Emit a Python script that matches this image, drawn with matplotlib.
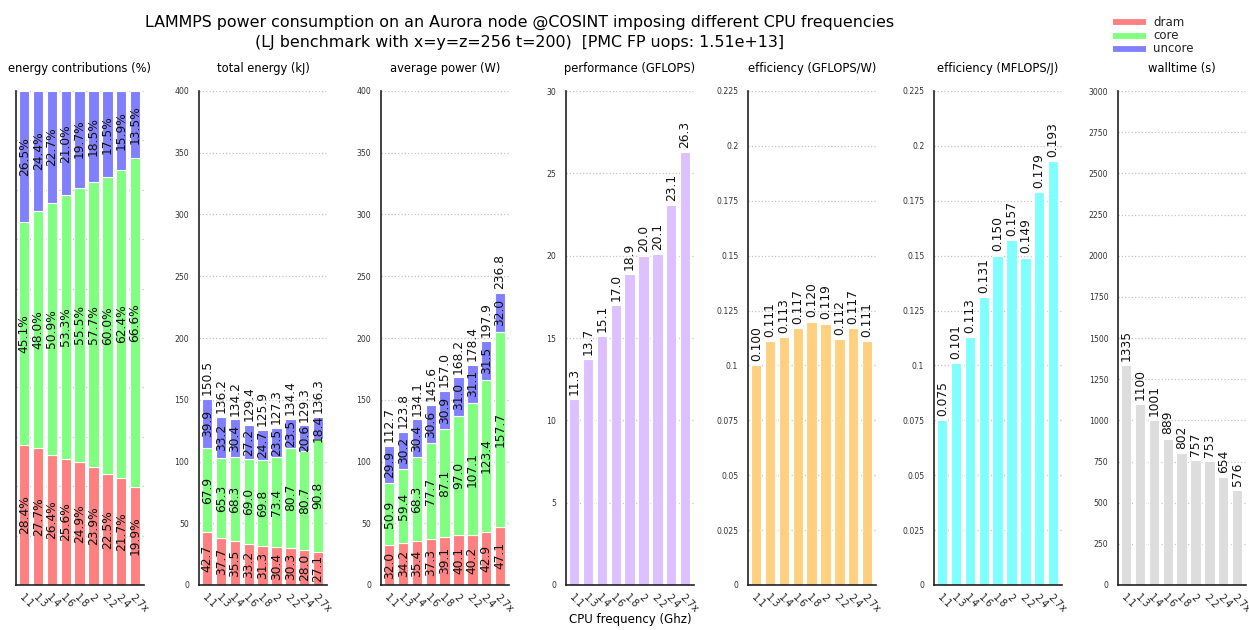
import matplotlib
matplotlib.use("Agg")
import matplotlib.pyplot as plt
from matplotlib.lines import Line2D
import numpy as np

plt.rcParams['font.family'] = ['DejaVu Sans']

freq_labels = ["1.1", "1.3", "1.4", "1.6", "1.8", "2", "2.2", "2.4", "2.7x"]

pct_dram = [28.4, 27.7, 26.4, 25.6, 24.9, 23.9, 22.5, 21.7, 19.9]
pct_core = [45.1, 48.0, 50.9, 53.3, 55.5, 57.7, 60.0, 62.4, 66.6]
pct_uncore = [26.5, 24.4, 22.7, 21.0, 19.7, 18.5, 17.5, 15.9, 13.5]

energy_dram = [42.7, 37.7, 35.5, 33.2, 31.3, 30.4, 30.3, 28.0, 27.1]
energy_core = [67.9, 65.3, 68.3, 69.0, 69.8, 73.4, 80.7, 80.7, 90.8]
energy_uncore = [39.9, 33.2, 30.4, 27.2, 24.7, 23.5, 23.5, 20.6, 18.4]
energy_total = [150.5, 136.2, 134.2, 129.4, 125.9, 127.3, 134.4, 129.3, 136.3]

power_dram = [32.0, 34.2, 35.4, 37.3, 39.1, 40.1, 40.2, 42.9, 47.1]
power_core = [50.9, 59.4, 68.3, 77.7, 87.1, 97.0, 107.1, 123.4, 157.7]
power_uncore = [29.9, 30.2, 30.4, 30.6, 30.9, 31.0, 31.1, 31.5, 32.0]
power_total = [112.7, 123.8, 134.1, 145.6, 157.0, 168.2, 178.4, 197.9, 236.8]

gflops = [11.3, 13.7, 15.1, 17.0, 18.9, 20.0, 20.1, 23.1, 26.3]
gflops_per_w = [0.100, 0.111, 0.113, 0.117, 0.120, 0.119, 0.112, 0.117, 0.111]
mflops_per_j = [0.075, 0.101, 0.113, 0.131, 0.150, 0.157, 0.149, 0.179, 0.193]
walltime = [1335, 1100, 1001, 889, 802, 757, 753, 654, 576]

C_DRAM, C_CORE, C_UNCORE = '#ff8080', '#80ff80', '#8080ff'

W, H = 1249, 630
fig = plt.figure(figsize=(W / 100, H / 100), dpi=100)

TOP, BOTTOM = 91, 585
lefts = [16, 199, 381, 566, 748, 934, 1118]
AXW = 128
TITLE_FS = 8.3
VAL_FS = 8.8


def make_ax(i):
    l = lefts[i]
    ax = fig.add_axes([l / W, 1 - BOTTOM / H, AXW / W, (BOTTOM - TOP) / H])
    for s in ('top', 'right'):
        ax.spines[s].set_visible(False)
    for s in ('left', 'bottom'):
        ax.spines[s].set_color('#222222')
        ax.spines[s].set_linewidth(1.2)
    ax.set_xlim(-0.6, 8.65)
    ax.set_xticks(range(len(freq_labels)))
    ax.set_xticklabels(freq_labels, rotation=-45, ha='left', va='top',
                       rotation_mode='anchor', fontsize=7, color='#222222')
    ax.tick_params(axis='both', length=0, pad=5)
    ax.tick_params(axis='y', labelsize=5.6, labelcolor='#333333', pad=7)
    ax.yaxis.grid(True, linestyle=':', color='#c4c4c4', linewidth=0.9)
    ax.set_axisbelow(True)
    return ax


x = np.arange(len(freq_labels))
BW = 0.75
LBL = dict(rotation=90, ha='center', fontsize=VAL_FS, color='#111111')


def stacked(ax, parts, colors, fmt):
    bottom = np.zeros(len(x))
    for vals, c in zip(parts, colors):
        vals = np.asarray(vals)
        ax.bar(x, vals, BW, bottom=bottom, color=c, edgecolor='white', linewidth=0.8)
        for xi, b, v in zip(x, bottom, vals):
            ax.text(xi, b + v / 2, fmt(v), va='center', **LBL)
        bottom = bottom + vals
    return bottom


# energy contributions (%)
ax = make_ax(0)
stacked(ax, [pct_dram, pct_core, pct_uncore], [C_DRAM, C_CORE, C_UNCORE],
        lambda v: f"{v:.1f}%")
ax.set_ylim(0, 100)
ax.set_yticks(np.arange(0, 101, 10))
ax.set_yticklabels([])
ax.set_title("energy contributions (%)", fontsize=TITLE_FS, pad=14)

# total energy (kJ)
ax = make_ax(1)
stacked(ax, [energy_dram, energy_core, energy_uncore], [C_DRAM, C_CORE, C_UNCORE],
        lambda v: f"{v:.1f}")
for xi, t in zip(x, energy_total):
    ax.text(xi, t + 3, f"{t:.1f}", va='bottom', **LBL)
ax.set_ylim(0, 400)
ax.set_yticks(np.arange(0, 401, 50))
ax.set_title("total energy (kJ)", fontsize=TITLE_FS, pad=14)

# average power (W)
ax = make_ax(2)
stacked(ax, [power_dram, power_core, power_uncore], [C_DRAM, C_CORE, C_UNCORE],
        lambda v: f"{v:.1f}")
for xi, t in zip(x, power_total):
    ax.text(xi, t + 3, f"{t:.1f}", va='bottom', **LBL)
ax.set_ylim(0, 400)
ax.set_yticks(np.arange(0, 401, 50))
ax.set_title("average power (W)", fontsize=TITLE_FS, pad=14)


def simple(i, vals, color, ylim, step, fmt, title, off):
    ax = make_ax(i)
    ax.bar(x, vals, BW, color=color, edgecolor='white', linewidth=0.8)
    for xi, v in zip(x, vals):
        ax.text(xi, v + off, fmt(v), va='bottom', **LBL)
    ax.set_ylim(0, ylim)
    ticks = np.arange(0, ylim + step / 2, step)
    ax.set_yticks(ticks)
    ax.set_yticklabels([f"{t:g}" for t in np.round(ticks, 4)])
    ax.set_title(title, fontsize=TITLE_FS, pad=14)
    return ax


simple(3, gflops, '#dcc0ff', 30, 5, lambda v: f"{v:.1f}", "performance (GFLOPS)", 0.25)
simple(4, gflops_per_w, '#ffd080', 0.225, 0.025, lambda v: f"{v:.3f}", "efficiency (GFLOPS/W)", 0.002)
simple(5, mflops_per_j, '#80ffff', 0.225, 0.025, lambda v: f"{v:.3f}", "efficiency (MFLOPS/J)", 0.002)
simple(6, walltime, '#dddddd', 3000, 250, lambda v: f"{v:d}", "walltime (s)", 25)

fig.text(630 / W, 1 - 620 / H, "CPU frequency (Ghz)", ha='center', va='center', fontsize=8.5)

fig.text(520 / W, 1 - 22 / H,
         "LAMMPS power consumption on an Aurora node @COSINT imposing different CPU frequencies",
         ha='center', va='center', fontsize=11.4)
fig.text(520 / W, 1 - 42 / H,
         "(LJ benchmark with x=y=z=256 t=200)  [PMC FP uops: 1.51e+13]",
         ha='center', va='center', fontsize=11.4)

# legend drawn as thick colour strokes with labels
for k, (c, name) in enumerate(zip((C_DRAM, C_CORE, C_UNCORE), ("dram", "core", "uncore"))):
    yy = 1 - (22 + 13.5 * k) / H
    fig.add_artist(Line2D([1113 / W, 1146 / W], [yy, yy], color=c, linewidth=4.2,
                          solid_capstyle='butt', transform=fig.transFigure))
    fig.text(1153 / W, yy, name, ha='left', va='center', fontsize=8.5, color='#222222')

fig.savefig("out.png", dpi=100)
